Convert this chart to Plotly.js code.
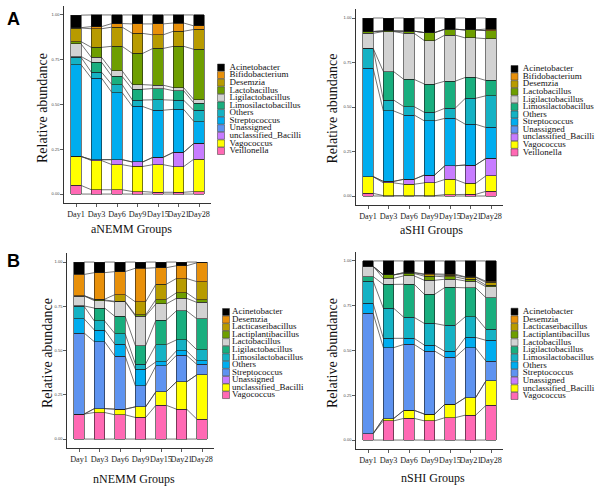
<!DOCTYPE html>
<html><head><meta charset="utf-8">
<script src="https://cdn.plot.ly/plotly-3.0.1.min.js"></script>
<style>html,body{margin:0;padding:0;background:#fff}#chart{width:600px;height:492px}</style>
</head><body><div id="chart"></div>
<script>
// ---------------- DATA ----------------
const days = ["Day1","Day3","Day6","Day9","Day15","Day21","Day28"];
const yTickVals = [0, 0.25, 0.5, 0.75, 1];
const yTickText = ["0.00","0.25","0.50","0.75","1.00"];
const palette = ["#000000","#E8900A","#B89B00","#6E9E00","#D2D2D2","#19AE7E","#15B2C4","#00ADEF","#5E93F0","#C77CFF","#FFFF00","#FF69B4"];

const generaA = ["Acinetobacter","Bifidobacterium","Desemzia","Lactobacillus","Ligilactobacillus","Limosilactobacillus","Others","Streptococcus","Unassigned","unclassified_Bacilli","Vagococcus","Veillonella"];
const generaB = ["Acinetobacter","Desemzia","Lacticaseibacillus","Lactiplantibacillus","Lactobacillus","Ligilactobacillus","Limosilactobacillus","Others","Streptococcus","Unassigned","unclassified_Bacilli","Vagococcus"];

// aNEMM
const aNEMM_Acinetobacter       = [0.070, 0.065, 0.048, 0.050, 0.050, 0.045, 0.061];
const aNEMM_Bifidobacterium     = [0.002, 0.012, 0.020, 0.053, 0.061, 0.046, 0.020];
const aNEMM_Desemzia            = [0.076, 0.104, 0.107, 0.112, 0.076, 0.084, 0.111];
const aNEMM_Lactobacillus       = [0.013, 0.056, 0.137, 0.174, 0.205, 0.231, 0.281];
const aNEMM_Ligilactobacillus   = [0.070, 0.027, 0.031, 0.026, 0.019, 0.017, 0.019];
const aNEMM_Limosilactobacillus = [0.005, 0.056, 0.046, 0.060, 0.063, 0.053, 0.041];
const aNEMM_Others              = [0.041, 0.033, 0.044, 0.036, 0.058, 0.051, 0.062];
const aNEMM_Streptococcus       = [0.512, 0.455, 0.375, 0.310, 0.263, 0.240, 0.122];
const aNEMM_Unassigned          = [0.000, 0.000, 0.000, 0.000, 0.000, 0.000, 0.000];
const aNEMM_unclassified_Bacilli= [0.000, 0.005, 0.028, 0.025, 0.041, 0.080, 0.088];
const aNEMM_Vagococcus          = [0.162, 0.163, 0.140, 0.140, 0.154, 0.143, 0.181];
const aNEMM_Veillonella         = [0.048, 0.024, 0.024, 0.014, 0.010, 0.010, 0.014];

// aSHI
const aSHI_Acinetobacter        = [0.076, 0.073, 0.074, 0.082, 0.063, 0.067, 0.062];
const aSHI_Bifidobacterium      = [0.000, 0.000, 0.000, 0.000, 0.000, 0.000, 0.009];
const aSHI_Desemzia             = [0.000, 0.000, 0.000, 0.000, 0.000, 0.000, 0.000];
const aSHI_Lactobacillus        = [0.010, 0.003, 0.012, 0.045, 0.033, 0.045, 0.045];
const aSHI_Ligilactobacillus    = [0.084, 0.225, 0.259, 0.244, 0.259, 0.222, 0.235];
const aSHI_Limosilactobacillus  = [0.000, 0.160, 0.153, 0.159, 0.152, 0.117, 0.086];
const aSHI_Others               = [0.113, 0.061, 0.047, 0.048, 0.057, 0.146, 0.178];
const aSHI_Streptococcus        = [0.608, 0.396, 0.361, 0.304, 0.266, 0.229, 0.174];
const aSHI_Unassigned           = [0.000, 0.000, 0.000, 0.000, 0.000, 0.000, 0.000];
const aSHI_unclassified_Bacilli = [0.000, 0.008, 0.028, 0.044, 0.077, 0.103, 0.098];
const aSHI_Vagococcus           = [0.094, 0.072, 0.064, 0.072, 0.085, 0.062, 0.087];
const aSHI_Veillonella          = [0.015, 0.002, 0.002, 0.002, 0.008, 0.009, 0.026];

// nNEMM
const nNEMM_Acinetobacter       = [0.070, 0.060, 0.054, 0.035, 0.032, 0.021, 0.004];
const nNEMM_Desemzia            = [0.120, 0.150, 0.130, 0.190, 0.094, 0.072, 0.107];
const nNEMM_Lacticaseibacillus  = [0.000, 0.004, 0.038, 0.074, 0.086, 0.081, 0.103];
const nNEMM_Lactiplantibacillus = [0.002, 0.004, 0.003, 0.006, 0.025, 0.031, 0.014];
const nNEMM_Lactobacillus       = [0.056, 0.042, 0.082, 0.167, 0.092, 0.071, 0.093];
const nNEMM_Ligilactobacillus   = [0.002, 0.073, 0.097, 0.104, 0.138, 0.164, 0.175];
const nNEMM_Limosilactobacillus = [0.071, 0.051, 0.061, 0.029, 0.097, 0.062, 0.063];
const nNEMM_Others              = [0.080, 0.066, 0.066, 0.094, 0.023, 0.025, 0.019];
const nNEMM_Streptococcus       = [0.458, 0.378, 0.300, 0.119, 0.146, 0.150, 0.059];
const nNEMM_Unassigned          = [0.000, 0.000, 0.000, 0.000, 0.000, 0.000, 0.000];
const nNEMM_unclassified_Bacilli= [0.000, 0.022, 0.032, 0.060, 0.076, 0.154, 0.251];
const nNEMM_Vagococcus          = [0.141, 0.150, 0.137, 0.122, 0.191, 0.169, 0.112];

// nSHI
const nSHI_Acinetobacter        = [0.030, 0.078, 0.065, 0.072, 0.074, 0.089, 0.113];
const nSHI_Desemzia             = [0.000, 0.000, 0.000, 0.005, 0.006, 0.002, 0.007];
const nSHI_Lacticaseibacillus   = [0.000, 0.000, 0.005, 0.008, 0.009, 0.010, 0.015];
const nSHI_Lactiplantibacillus  = [0.000, 0.019, 0.013, 0.023, 0.013, 0.011, 0.009];
const nSHI_Lactobacillus        = [0.057, 0.034, 0.047, 0.078, 0.046, 0.038, 0.061];
const nSHI_Ligilactobacillus    = [0.025, 0.133, 0.185, 0.163, 0.212, 0.161, 0.175];
const nSHI_Limosilactobacillus  = [0.125, 0.168, 0.117, 0.121, 0.145, 0.116, 0.063];
const nSHI_Others               = [0.056, 0.052, 0.034, 0.033, 0.033, 0.059, 0.116];
const nSHI_Streptococcus        = [0.671, 0.396, 0.368, 0.352, 0.262, 0.277, 0.111];
const nSHI_Unassigned           = [0.000, 0.000, 0.000, 0.000, 0.000, 0.000, 0.000];
const nSHI_unclassified_Bacilli = [0.000, 0.013, 0.045, 0.038, 0.075, 0.098, 0.137];
const nSHI_Vagococcus           = [0.036, 0.107, 0.121, 0.107, 0.125, 0.139, 0.193];

const aNEMM_values = [aNEMM_Acinetobacter,aNEMM_Bifidobacterium,aNEMM_Desemzia,aNEMM_Lactobacillus,aNEMM_Ligilactobacillus,aNEMM_Limosilactobacillus,aNEMM_Others,aNEMM_Streptococcus,aNEMM_Unassigned,aNEMM_unclassified_Bacilli,aNEMM_Vagococcus,aNEMM_Veillonella];
const aSHI_values = [aSHI_Acinetobacter,aSHI_Bifidobacterium,aSHI_Desemzia,aSHI_Lactobacillus,aSHI_Ligilactobacillus,aSHI_Limosilactobacillus,aSHI_Others,aSHI_Streptococcus,aSHI_Unassigned,aSHI_unclassified_Bacilli,aSHI_Vagococcus,aSHI_Veillonella];
const nNEMM_values = [nNEMM_Acinetobacter,nNEMM_Desemzia,nNEMM_Lacticaseibacillus,nNEMM_Lactiplantibacillus,nNEMM_Lactobacillus,nNEMM_Ligilactobacillus,nNEMM_Limosilactobacillus,nNEMM_Others,nNEMM_Streptococcus,nNEMM_Unassigned,nNEMM_unclassified_Bacilli,nNEMM_Vagococcus];
const nSHI_values = [nSHI_Acinetobacter,nSHI_Desemzia,nSHI_Lacticaseibacillus,nSHI_Lactiplantibacillus,nSHI_Lactobacillus,nSHI_Ligilactobacillus,nSHI_Limosilactobacillus,nSHI_Others,nSHI_Streptococcus,nSHI_Unassigned,nSHI_unclassified_Bacilli,nSHI_Vagococcus];

// ---------------- LAYOUT SPECS (pixels) ----------------
const W = 600, H = 492;
const SERIF = "'Liberation Serif', 'Times New Roman', serif";
const panels = [
  {title:"aNEMM Groups", genera:generaA, values:aNEMM_values,
   xpx:[63.7,211.3], ypx:[6,203], ytitle:[43,108], xtitle:[131,229],
   legend:{boxX:221, firstY:67.5, step:7.59, textX:229.5}},
  {title:"aSHI Groups", genera:generaA, values:aSHI_values,
   xpx:[355.7,503.3], ypx:[9.1,204.9], ytitle:[332,108.5], xtitle:[431,230],
   legend:{boxX:514.5, firstY:69, step:7.58, textX:522.7}},
  {title:"nNEMM Groups", genera:generaB, values:nNEMM_values,
   xpx:[66.7,214.3], ypx:[253.2,447.9], ytitle:[47,353], xtitle:[134,479],
   legend:{boxX:226, firstY:312, step:7.55, textX:232}},
  {title:"nSHI Groups", genera:generaB, values:nSHI_values,
   xpx:[355.7,503.3], ypx:[252,449], ytitle:[332,353], xtitle:[432.5,478],
   legend:{boxX:514.5, firstY:311.7, step:7.66, textX:522.7}}
];
const barWidth = 0.5;

const fx = p => p / W;
const fy = p => 1 - p / H;

const traces = [];
const layout = {
  width: W, height: H, margin:{l:0,r:0,t:0,b:0},
  paper_bgcolor:"#fff", plot_bgcolor:"#fff",
  barmode:"stack", bargap:0, showlegend:false,
  annotations:[], font:{family:SERIF, color:"#000"}
};

panels.forEach((p, k) => {
  const id = k === 0 ? "" : String(k + 1);
  const xa = "x" + id, ya = "y" + id;
  const n = p.genera.length;
  const xs = days.map((d, i) => i);

  for (let g = n - 1; g >= 0; g--) {
    traces.push({type:"bar", x:xs, y:p.values[g], name:p.genera[g], xaxis:xa, yaxis:ya,
      width:barWidth, marker:{color:palette[g], line:{color:"#1c1c1c", width:0.6}},
      customdata:days, hovertemplate:"%{customdata}<br>"+p.genera[g]+": %{y}<extra></extra>"});
  }
  // connecting lines between stacked boundaries
  const cum = days.map(() => 0);
  const lx = [], ly = [];
  const addLevel = () => {
    for (let i = 0; i < days.length - 1; i++) {
      lx.push(i + barWidth/2, i + 1 - barWidth/2, null);
      ly.push(cum[i], cum[i+1], null);
    }
  };
  addLevel();
  for (let g = n - 1; g >= 0; g--) {
    p.values[g].forEach((v, i) => { cum[i] += v; });
    addLevel();
  }
  traces.push({type:"scatter", mode:"lines", x:lx, y:ly, xaxis:xa, yaxis:ya,
    line:{color:"#3a3a3a", width:0.7}, hoverinfo:"skip", cliponaxis:false});

  layout["xaxis" + id] = {domain:[fx(p.xpx[0]), fx(p.xpx[1])], anchor:ya,
    range:[-0.6, 6.6], tickvals:xs, ticktext:days, tickangle:0, showgrid:false, zeroline:false,
    showline:true, linecolor:"#333", linewidth:1, ticks:"outside", ticklen:3, tickwidth:0.8,
    tickcolor:"#333", tickfont:{family:SERIF, size:8.2, color:"#1a1a1a"}, fixedrange:true};
  layout["yaxis" + id] = {domain:[fy(p.ypx[1]), fy(p.ypx[0])], anchor:xa,
    range:[-0.05, 1.05], tickvals:yTickVals, ticktext:yTickText, showgrid:false, zeroline:false,
    showline:true, linecolor:"#333", linewidth:1, ticks:"outside", ticklen:2.5, tickwidth:0.8,
    tickcolor:"#333", tickfont:{family:"'Liberation Sans', Arial, sans-serif", size:4, color:"#444"}, fixedrange:true};

  layout.annotations.push({xref:"paper", yref:"paper", x:fx(p.ytitle[0]), y:fy(p.ytitle[1]),
    text:"Relative abundance", textangle:-90, showarrow:false, xanchor:"center", yanchor:"middle",
    font:{family:SERIF, size:14, color:"#111"}});
  layout.annotations.push({xref:"paper", yref:"paper", x:fx(p.xtitle[0]), y:fy(p.xtitle[1]),
    text:p.title, showarrow:false, xanchor:"center", yanchor:"middle",
    font:{family:SERIF, size:12, color:"#111"}});

  // legend drawn on a hidden axis pair
  const lg = p.legend, lid = String(k + 5);
  const top = lg.firstY - lg.step/2, bottom = top + n*lg.step;
  layout["xaxis" + lid] = {domain:[fx(lg.boxX), fx(lg.boxX + 80)], range:[0, 80], anchor:"y"+lid, visible:false, fixedrange:true};
  layout["yaxis" + lid] = {domain:[fy(bottom), fy(top)], range:[n - 0.5, -0.5], anchor:"x"+lid, visible:false, fixedrange:true};
  const idx = p.genera.map((g, i) => i);
  traces.push({type:"scatter", mode:"markers", x:idx.map(() => 0), y:idx, xaxis:"x"+lid, yaxis:"y"+lid,
    marker:{symbol:"square", size:7, color:palette.slice(0, n), line:{color:"#333", width:0.5}},
    hoverinfo:"skip", cliponaxis:false});
  traces.push({type:"scatter", mode:"text", x:idx.map(() => lg.textX - lg.boxX), y:idx, xaxis:"x"+lid, yaxis:"y"+lid,
    text:p.genera, textposition:"middle right", textfont:{family:SERIF, size:9, color:"#111"},
    hoverinfo:"skip", cliponaxis:false});
});

layout.annotations.push({xref:"paper", yref:"paper", x:fx(13), y:fy(18.5), text:"<b>A</b>", showarrow:false,
  xanchor:"center", yanchor:"middle", font:{family:"'Liberation Sans', Arial, sans-serif", size:18, color:"#000"}});
layout.annotations.push({xref:"paper", yref:"paper", x:fx(13), y:fy(260.5), text:"<b>B</b>", showarrow:false,
  xanchor:"center", yanchor:"middle", font:{family:"'Liberation Sans', Arial, sans-serif", size:18, color:"#000"}});

Plotly.newPlot("chart", traces, layout, {displayModeBar:false, staticPlot:true});
</script></body></html>
